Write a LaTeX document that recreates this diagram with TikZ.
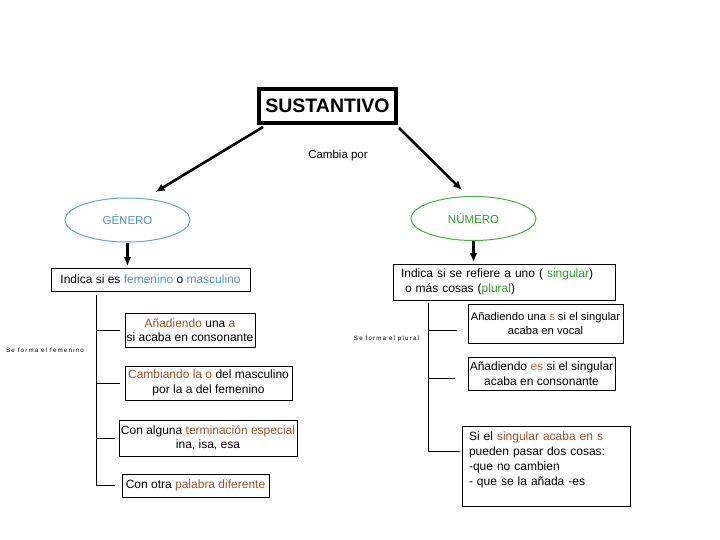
\documentclass[tikz,border=0pt]{standalone}
\usepackage{fontspec}
\setmainfont{Liberation Sans}
\newfontfamily\tinyfont[LetterSpace=19]{Liberation Sans}
\usetikzlibrary{arrows.meta,shapes.geometric}
\definecolor{gblue}{RGB}{80,150,195}
\definecolor{ngreen}{RGB}{40,160,40}
\definecolor{tbrown}{RGB}{160,80,40}
\definecolor{torange}{RGB}{205,110,70}
\begin{document}
\begin{tikzpicture}[x=1pt,y=-1pt,
  font=\fontsize{12}{14.5}\selectfont,
  box/.style={draw, line width=1pt, inner sep=0pt, align=center},
  arr/.style={line width=2.6pt, -{Latex[length=9pt,width=8pt]}},
  stub/.style={line width=1pt},
  oval/.style={ellipse, line width=1pt, minimum width=125, minimum height=44, inner sep=0pt, font=\fontsize{11.5}{14}\selectfont},
  tiny/.style={font=\tinyfont\fontsize{6.2}{7}\selectfont, inner sep=0pt}]
\useasboundingbox (0,0) rectangle (720,540);

\node[draw, line width=4pt, minimum width=137, minimum height=34, inner sep=0pt,
  font=\bfseries\fontsize{19.5}{22}\selectfont] (sus) at (327.5,106) {SUSTANTIVO};
\node[font=\fontsize{11.5}{14}\selectfont] (cam) at (338,156) {Cambia por};

\node[oval, draw=gblue!85, text=gblue] (gen) at (127.5,220) {GÉNERO};
\node[oval, draw=ngreen!85, text=ngreen] (num) at (473.5,218.5) {NÚMERO};

\draw[arr] ([xshift=6pt,yshift=-2pt]sus.south west) -- ([xshift=28pt,yshift=28pt]gen.center);
\draw[arr] ([xshift=1pt,yshift=-3pt]sus.south east) -- ([xshift=-11.5pt,yshift=28.5pt]num.center);

\node[box, minimum width=199, minimum height=23] (fem) at (150.5,279.5)
  {Indica si es \textcolor{gblue}{femenino} o \textcolor{gblue}{masculino}};
\node[box, minimum width=222, minimum height=36, text width=206, align=left] (nump) at (504,282)
  {Indica si se refiere a uno ( \textcolor{ngreen}{singular})\\\ o más cosas (\textcolor{ngreen}{plural})};

\draw[arr, shorten >=1.5pt] (gen.south) -- (gen.south |- fem.north);
\draw[arr, shorten >=1.5pt] (num.south) -- (num.south |- nump.north);

% left branch
\node[box, minimum width=130, minimum height=34] (fa) at (190,330)
  {\textcolor{tbrown}{Añadiendo} una \textcolor{tbrown}{a}\\si acaba en consonante};
\node[box, minimum width=167, minimum height=34] (fb) at (208.5,383)
  {\textcolor{tbrown}{Cambiando la o} del masculino\\por la a del femenino};
\node[box, minimum width=178, minimum height=36] (fc) at (208,438)
  {Con alguna \textcolor{tbrown}{terminación especial}\\ina, isa, esa};
\node[box, minimum width=147, minimum height=23] (fd) at (195.5,485.5)
  {Con otra \textcolor{tbrown}{palabra diferente}};
\node[tiny] (sff) at (45,350) {Se forma el femenino};

\coordinate (lt) at (96,295);
\coordinate (lb) at (96,485.5);
\draw[stub] (lt) -- (lb);
\draw[stub] (lt |- fa.west) -- ([xshift=-5pt]fa.west);
\draw[stub] (lt |- fb.west) -- ([xshift=-5pt]fb.west);
\draw[stub] (lt |- fc.west) -- ([xshift=-4pt]fc.west);
\draw[stub] (lb) -- ([xshift=-7pt]fd.west);

% right branch
\node[box, minimum width=155, minimum height=39, font=\fontsize{11.2}{14.5}\selectfont] (pa) at (545.5,323.5)
  {Añadiendo una \textcolor{torange}{s} si el singular\\acaba en vocal};
\node[box, minimum width=147, minimum height=33] (pb) at (541.5,373.5)
  {Añadiendo \textcolor{torange}{es} si el singular\\acaba en consonante};
\node[box, minimum width=168, minimum height=80, text width=154, align=left,
  font=\fontsize{12}{15}\selectfont] (pc) at (546,466)
  {Si el \textcolor{tbrown}{singular acaba en s}\\pueden pasar dos cosas:\\-que no cambien\\- que se la añada -es\\\mbox{}};
\node[tiny] (sfp) at (386.5,339) {Se forma el plural};

\coordinate (rt) at (428,303);
\coordinate (rb) at (428,451);
\draw[stub] (rt) -- (rb);
\draw[stub] ([yshift=-6.5pt]rt |- pa.west) -- ([xshift=-11pt,yshift=-6.5pt]pa.west);
\draw[stub] ([yshift=-4.5pt]rt |- pb.west) -- ([xshift=-13pt,yshift=-4.5pt]pb.west);
\draw[stub] (rb) -- ([xshift=-2pt]rb -| pc.west);
\end{tikzpicture}
\end{document}
